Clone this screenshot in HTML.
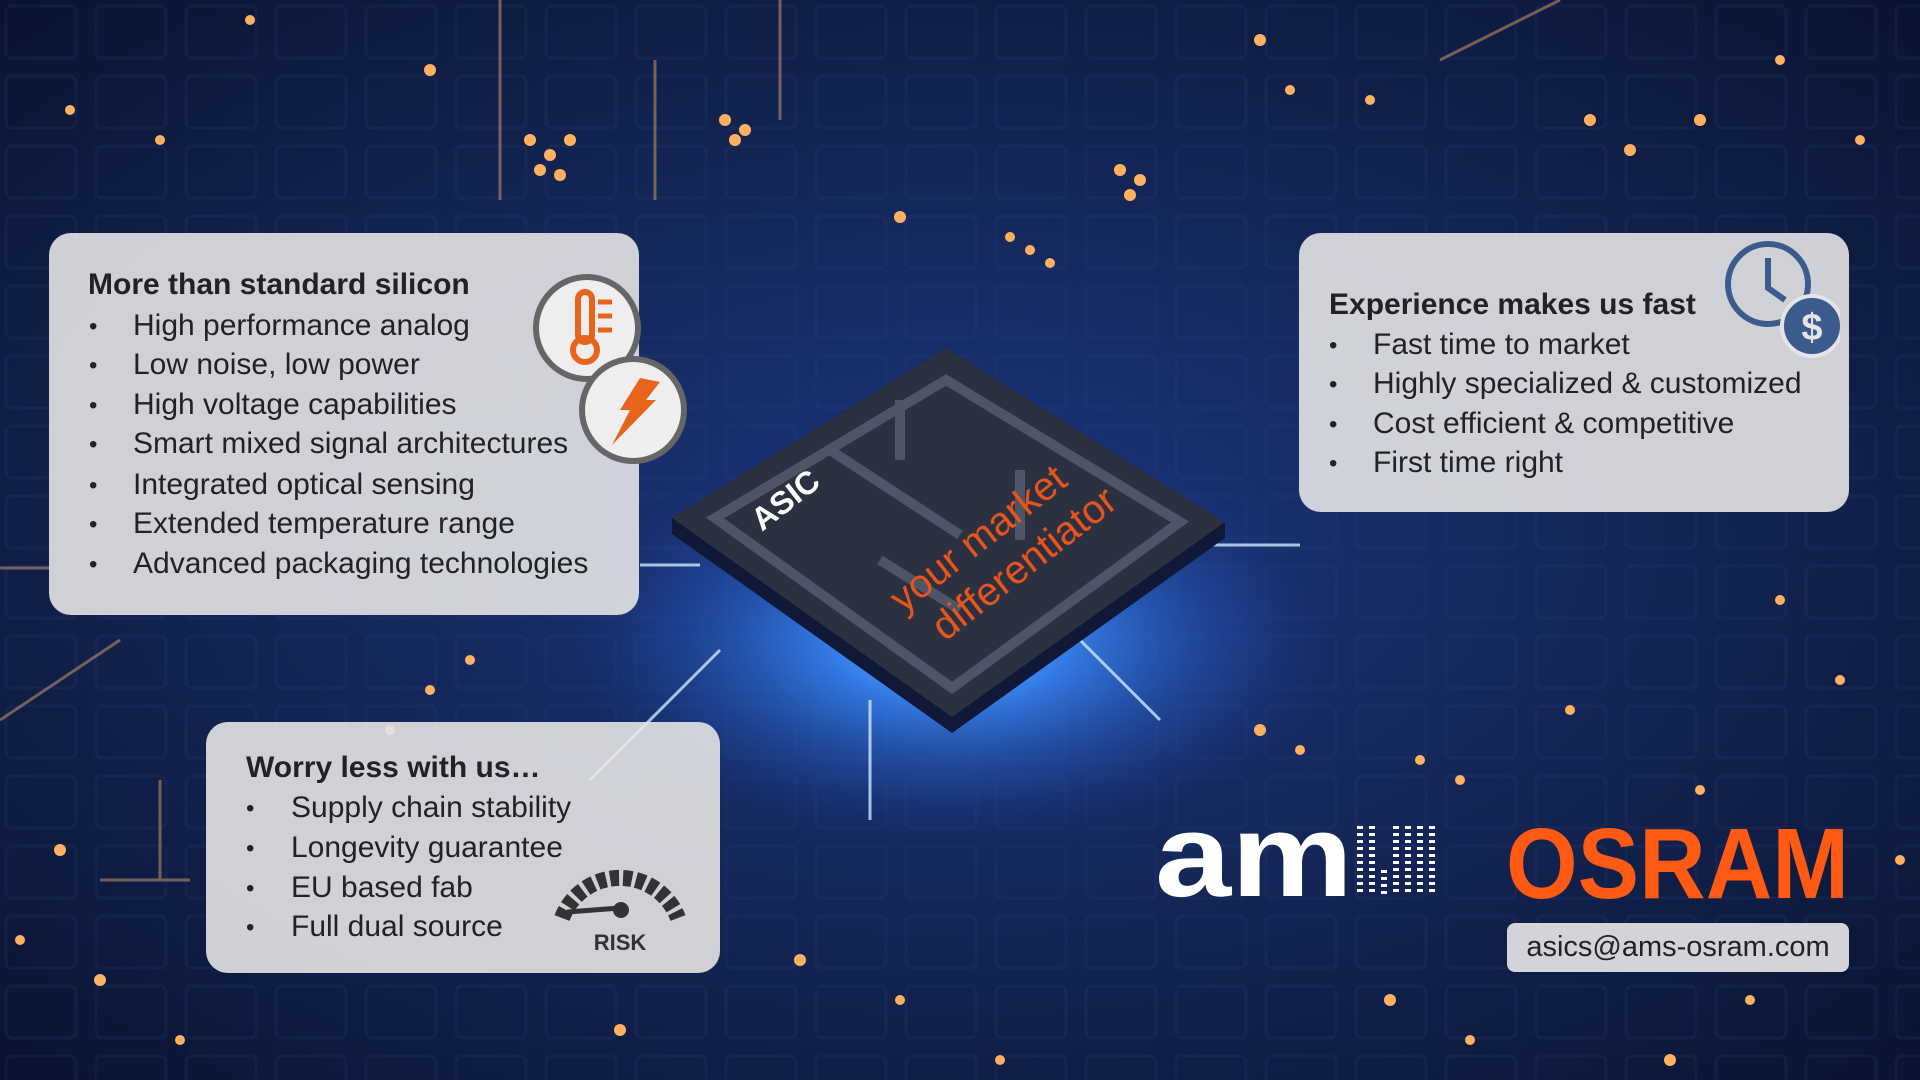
<!DOCTYPE html>
<html><head><meta charset="utf-8"><style>
html,body{margin:0;padding:0;width:1920px;height:1080px;overflow:hidden;background:#0e1a3a;}
.bg{position:absolute;left:0;top:0;width:1920px;height:1080px;}
.box{position:absolute;background:rgba(228,228,230,0.9);border-radius:22px;font-family:"Liberation Sans",sans-serif;color:#222;}
.t{position:absolute;font-weight:bold;font-size:30px;white-space:nowrap;}
.b{position:absolute;font-size:30px;white-space:nowrap;}
.d{position:absolute;font-size:24px;}
</style></head><body>
<svg class="bg" width="1920" height="1080" viewBox="0 0 1920 1080">
<defs>
<radialGradient id="g0" cx="50%" cy="50%" r="70%">
<stop offset="0" stop-color="#1c3780"/><stop offset="0.5" stop-color="#142656"/><stop offset="1" stop-color="#0a1330"/></radialGradient>
<radialGradient id="glow" cx="50%" cy="50%" r="50%">
<stop offset="0" stop-color="#a8e4ff" stop-opacity="1"/><stop offset="0.3" stop-color="#3a8cff" stop-opacity="0.85"/><stop offset="1" stop-color="#1a3fa0" stop-opacity="0"/></radialGradient>
<pattern id="grid" width="90" height="70" patternUnits="userSpaceOnUse">
<rect x="6" y="6" width="70" height="52" rx="6" fill="none" stroke="#2a4280" stroke-width="3" opacity="0.5"/>
</pattern>
</defs>
<rect width="1920" height="1080" fill="url(#g0)"/>
<rect width="1920" height="1080" fill="url(#grid)" opacity="0.35"/>
<ellipse cx="950" cy="640" rx="380" ry="200" fill="url(#glow)"/>
<g stroke="#d9a070" stroke-width="3" opacity="0.5">
<line x1="500" y1="0" x2="500" y2="200"/><line x1="655" y1="60" x2="655" y2="200"/><line x1="780" y1="0" x2="780" y2="120"/>
<line x1="1440" y1="60" x2="1560" y2="0"/><line x1="100" y1="880" x2="190" y2="880"/><line x1="160" y1="780" x2="160" y2="880"/>
<line x1="0" y1="568" x2="50" y2="568"/><line x1="0" y1="720" x2="120" y2="640"/>
</g>
<g stroke="#cfe8ff" stroke-width="3" opacity="0.8">
<line x1="720" y1="650" x2="590" y2="780"/><line x1="870" y1="700" x2="870" y2="820"/><line x1="1080" y1="640" x2="1160" y2="720"/>
<line x1="1210" y1="545" x2="1300" y2="545"/><line x1="640" y1="565" x2="700" y2="565"/>
</g>
<g fill="#ffb060">
<circle cx="530" cy="140" r="6"/><circle cx="550" cy="155" r="6"/><circle cx="570" cy="140" r="6"/><circle cx="540" cy="170" r="6"/><circle cx="560" cy="175" r="6"/>
<circle cx="725" cy="120" r="6"/><circle cx="745" cy="130" r="6"/><circle cx="735" cy="140" r="6"/>
<circle cx="900" cy="217" r="6"/><circle cx="1010" cy="237" r="5"/><circle cx="1030" cy="250" r="5"/><circle cx="1050" cy="263" r="5"/>
<circle cx="1120" cy="170" r="6"/><circle cx="1140" cy="180" r="6"/><circle cx="1130" cy="195" r="6"/>
<circle cx="1260" cy="40" r="6"/><circle cx="1290" cy="90" r="5"/><circle cx="1370" cy="100" r="5"/><circle cx="1590" cy="120" r="6"/><circle cx="1630" cy="150" r="6"/><circle cx="1700" cy="120" r="6"/><circle cx="1780" cy="60" r="5"/><circle cx="1860" cy="140" r="5"/>
<circle cx="250" cy="20" r="5"/><circle cx="430" cy="70" r="6"/><circle cx="160" cy="140" r="5"/><circle cx="70" cy="110" r="5"/>
<circle cx="1260" cy="730" r="6"/><circle cx="1300" cy="750" r="5"/><circle cx="1420" cy="760" r="5"/><circle cx="1460" cy="780" r="5"/><circle cx="1570" cy="710" r="5"/><circle cx="1700" cy="790" r="5"/><circle cx="1780" cy="600" r="5"/><circle cx="1840" cy="680" r="5"/>
<circle cx="60" cy="850" r="6"/><circle cx="100" cy="980" r="6"/><circle cx="20" cy="940" r="5"/><circle cx="180" cy="1040" r="5"/><circle cx="800" cy="960" r="6"/><circle cx="900" cy="1000" r="5"/><circle cx="620" cy="1030" r="6"/><circle cx="1000" cy="1060" r="5"/>
<circle cx="1390" cy="1000" r="6"/><circle cx="1470" cy="1040" r="5"/><circle cx="1670" cy="1060" r="6"/><circle cx="1900" cy="860" r="5"/><circle cx="1750" cy="1000" r="5"/>
<circle cx="430" cy="690" r="5"/><circle cx="470" cy="660" r="5"/><circle cx="390" cy="730" r="5"/>
</g>
<!-- chip -->
<polygon points="946,348 1225,522 1225,538 952,733 672,534 672,518" fill="#101838"/>
<polygon points="946,348 1225,522 952,717 672,518" fill="#2b3140"/>
<polygon points="946,380 1180,522 952,688 715,518" fill="none" stroke="#4d5566" stroke-width="10"/>
<path d="M830,450 L960,535 M900,400 L900,460 M1020,470 L1020,540 M880,560 L960,610" stroke="#4d5566" stroke-width="10" fill="none"/>
<text x="0" y="0" transform="translate(762,532) rotate(-38)" font-family="Liberation Sans,sans-serif" font-weight="bold" font-size="32" fill="#fff">ASIC</text>
<text x="0" y="0" transform="translate(903,614) rotate(-38)" font-family="Liberation Sans,sans-serif" font-size="40" fill="#e8541c">your market</text>
<text x="0" y="0" transform="translate(945,642) rotate(-38)" font-family="Liberation Sans,sans-serif" font-size="40" fill="#e8541c">differentiator</text>
<text x="1155" y="896" textLength="198" lengthAdjust="spacingAndGlyphs" font-family="Liberation Sans,sans-serif" font-weight="bold" font-size="118" fill="#fff">am</text>
<g fill="none" stroke="#fff" stroke-width="6" stroke-dasharray="3 4">
<path d="M1360,826 L1360,895 M1372,826 L1372,895 M1384,870 L1384,895 M1396,826 L1396,895 M1408,826 L1408,895 M1420,826 L1420,895 M1432,826 L1432,895"/>
</g>
<text x="1506" y="898" textLength="343" lengthAdjust="spacingAndGlyphs" font-family="Liberation Sans,sans-serif" font-weight="bold" font-size="100" fill="#ff5a14">OSRAM</text>
</svg>

<div class="box" style="left:49px;top:233px;width:590px;height:382px;">
<div class="t" style="left:39px;top:35px;">More than standard silicon</div>
<div class="d" style="left:40px;top:80px;">•</div><div class="b" style="left:84px;top:76px;">High performance analog</div>
<div class="d" style="left:40px;top:119px;">•</div><div class="b" style="left:84px;top:115px;">Low noise, low power</div>
<div class="d" style="left:40px;top:159px;">•</div><div class="b" style="left:84px;top:155px;">High voltage capabilities</div>
<div class="d" style="left:40px;top:198px;">•</div><div class="b" style="left:84px;top:194px;">Smart mixed signal architectures</div>
<div class="d" style="left:40px;top:239px;">•</div><div class="b" style="left:84px;top:235px;">Integrated optical sensing</div>
<div class="d" style="left:40px;top:278px;">•</div><div class="b" style="left:84px;top:274px;">Extended temperature range</div>
<div class="d" style="left:40px;top:318px;">•</div><div class="b" style="left:84px;top:314px;">Advanced packaging technologies</div>
</div>
<svg style="position:absolute;left:530px;top:270px" width="170" height="200" viewBox="530 270 170 200">
<circle cx="587" cy="328" r="51" fill="#eee" stroke="#666" stroke-width="6"/>
<rect x="578" y="292" width="14" height="50" rx="7" fill="none" stroke="#e8641c" stroke-width="6"/>
<circle cx="585" cy="350" r="12" fill="none" stroke="#e8641c" stroke-width="6"/>
<path d="M598,302 h14 M598,316 h14 M598,330 h14" stroke="#e8641c" stroke-width="5"/>
<circle cx="633" cy="410" r="51" fill="#eee" stroke="#666" stroke-width="6"/>
<polygon points="640,378 660,382 646,400 656,400 612,445 630,410 620,410" fill="#e8641c"/>
</svg>

<div class="box" style="left:1299px;top:233px;width:550px;height:279px;">
<div class="t" style="left:30px;top:55px;">Experience makes us fast</div>
<div class="d" style="left:30px;top:99px;">•</div><div class="b" style="left:74px;top:95px;">Fast time to market</div>
<div class="d" style="left:30px;top:138px;">•</div><div class="b" style="left:74px;top:134px;">Highly specialized &amp; customized</div>
<div class="d" style="left:30px;top:178px;">•</div><div class="b" style="left:74px;top:174px;">Cost efficient &amp; competitive</div>
<div class="d" style="left:30px;top:217px;">•</div><div class="b" style="left:74px;top:213px;">First time right</div>
</div>
<svg style="position:absolute;left:1720px;top:235px" width="120" height="125" viewBox="1720 235 120 125">
<circle cx="1768" cy="284" r="40" fill="none" stroke="#3b5b8c" stroke-width="6"/>
<path d="M1768,258 V288 L1785,300" stroke="#3b5b8c" stroke-width="6" fill="none"/>
<circle cx="1812" cy="326" r="30" fill="#3b5b8c" stroke="#e4e4e6" stroke-width="4"/>
<text x="1812" y="340" text-anchor="middle" font-family="Liberation Sans,sans-serif" font-weight="bold" font-size="38" fill="#e4e4e6">$</text>
</svg>

<div class="box" style="left:206px;top:722px;width:514px;height:251px;">
<div class="t" style="left:40px;top:29px;">Worry less with us…</div>
<div class="d" style="left:40px;top:73px;">•</div><div class="b" style="left:85px;top:69px;">Supply chain stability</div>
<div class="d" style="left:40px;top:113px;">•</div><div class="b" style="left:85px;top:109px;">Longevity guarantee</div>
<div class="d" style="left:40px;top:153px;">•</div><div class="b" style="left:85px;top:149px;">EU based fab</div>
<div class="d" style="left:40px;top:192px;">•</div><div class="b" style="left:85px;top:188px;">Full dual source</div>
</div>
<svg style="position:absolute;left:550px;top:835px" width="140" height="125" viewBox="550 835 140 125">
<path d="M562,918 A62,62 0 0 1 678,918" fill="none" stroke="#333" stroke-width="16" stroke-dasharray="9 4"/>
<path d="M567,912 L620,908" stroke="#333" stroke-width="5"/>
<circle cx="621" cy="910" r="8" fill="#333"/>
<text x="620" y="950" text-anchor="middle" font-family="Liberation Sans,sans-serif" font-weight="bold" font-size="22" fill="#333">RISK</text>
</svg>

<div style="position:absolute;left:1507px;top:923px;width:342px;height:49px;background:rgba(228,228,230,0.92);border-radius:8px;font-family:'Liberation Sans',sans-serif;font-size:29px;color:#222;line-height:49px;text-align:center;">asics@ams-osram.com</div>
</body></html>
